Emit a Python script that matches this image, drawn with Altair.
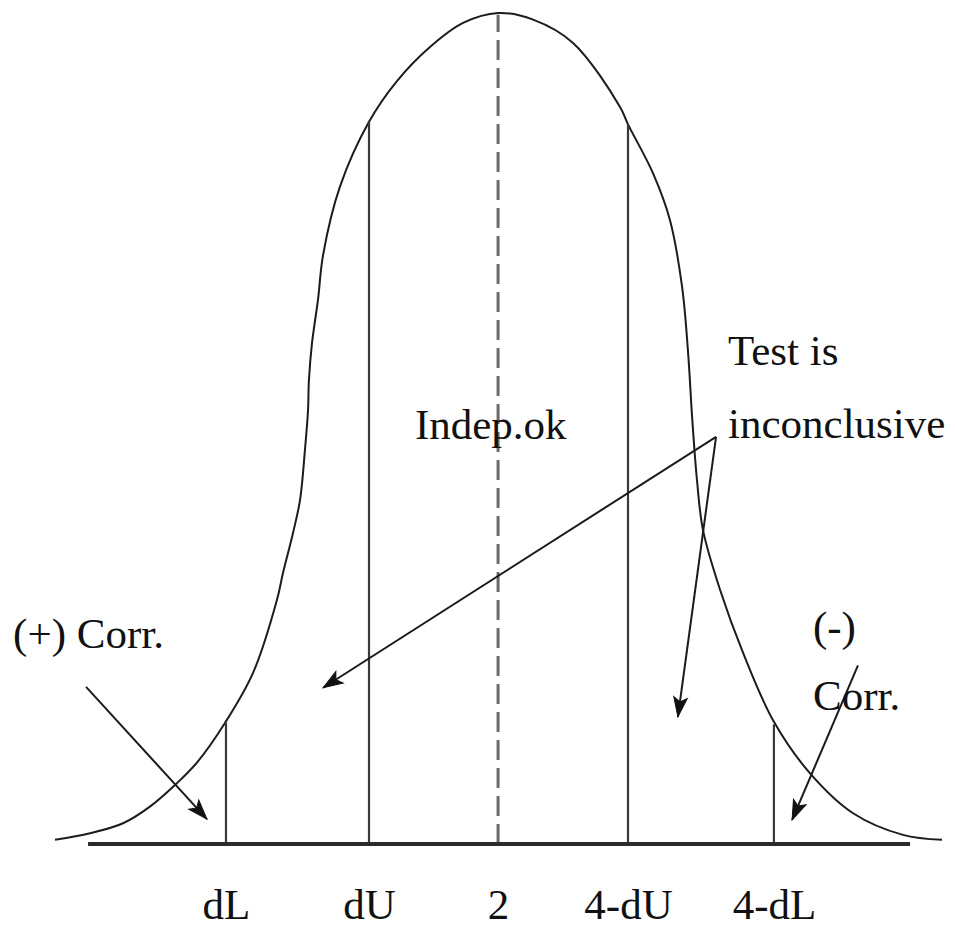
import math
import altair as alt
import pandas as pd

# ---- data (x = Durbin-Watson d, y = relative density) ----
curve_d = [0.000, 0.158, 0.307, 0.428, 0.541, 0.640, 0.767, 0.893, 1.001, 1.028,
           1.073, 1.105, 1.127, 1.141, 1.145, 1.159, 1.186, 1.209, 1.285, 1.416,
           1.542, 1.691, 1.840, 1.998, 2.156, 2.336, 2.548, 2.584, 2.697, 2.773,
           2.828, 2.855, 2.873, 2.895, 2.922, 2.999, 3.103, 3.242, 3.405, 3.599,
           3.824, 4.000]
curve_v = [0.005, 0.013, 0.025, 0.045, 0.071, 0.098, 0.146, 0.206, 0.294, 0.326,
           0.374, 0.414, 0.474, 0.522, 0.558, 0.603, 0.655, 0.709, 0.791, 0.869,
           0.918, 0.959, 0.988, 1.000, 0.992, 0.964, 0.887, 0.866, 0.807, 0.751,
           0.670, 0.591, 0.514, 0.438, 0.378, 0.306, 0.230, 0.147, 0.085, 0.037,
           0.011, 0.005]

cut_names = ["dL", "dU", "2", "4-dU", "4-dL"]
cut_d = [0.771, 1.416, 1.998, 2.584, 3.242]
cut_top = [0.146, 0.869, 0.998, 0.866, 0.144]

base_from, base_to = 0.149, 3.856

arrow_from_d = [0.140, 2.981, 2.981, 3.621]
arrow_from_v = [0.189, 0.490, 0.490, 0.215]
arrow_to_d = [0.685, 1.209, 2.809, 3.324]
arrow_to_v = [0.030, 0.188, 0.153, 0.029]

note_text = ["(+) Corr.", "Indep.ok", "Test is", "inconclusive", "(-)", "Corr."]
note_d = [-0.189, 1.623, 3.035, 3.035, 3.418, 3.418]
note_v = [0.236, 0.487, 0.577, 0.489, 0.244, 0.161]

# ---- layout ----
W, H = 939, 836
X_DOM = [-0.212, 4.0225]
Y_DOM = [0, 1.006]
px_d = W / (X_DOM[1] - X_DOM[0])
px_v = H / (Y_DOM[1] - Y_DOM[0])

FONT = "Liberation Serif"
FS = 43

xs = alt.Scale(domain=X_DOM, nice=False, zero=False)
ys = alt.Scale(domain=Y_DOM, nice=False, zero=False)
label_expr = ("datum.value < 1 ? 'dL' : datum.value < 1.8 ? 'dU' : "
              "datum.value < 2.2 ? '2' : datum.value < 3 ? '4-dU' : '4-dL'")
xaxis = alt.Axis(values=cut_d, labelExpr=label_expr, domain=False, ticks=False,
                 tickSize=0, grid=False, title=None, labelFont=FONT,
                 labelFontSize=FS, labelColor="#111111", labelPadding=74,
                 labelBaseline="alphabetic", labelFlush=False,
                 labelOverlap=False, labelBound=False)


def X(field):
    return alt.X(field, type="quantitative", scale=xs, axis=xaxis)


def Y(field):
    return alt.Y(field, type="quantitative", scale=ys, axis=None)


curve_df = pd.DataFrame({"d": curve_d, "v": curve_v})
cuts_df = pd.DataFrame({"name": cut_names, "d": cut_d, "top": cut_top, "bottom": 0.0})
base_df = pd.DataFrame({"d": [base_from], "d2": [base_to], "v": [0.0]})

angles = []
for a, b, c, e in zip(arrow_from_d, arrow_from_v, arrow_to_d, arrow_to_v):
    dx = (c - a) * px_d
    dy = -(e - b) * px_v
    angles.append(math.degrees(math.atan2(dx, -dy)) % 360)
arrows_df = pd.DataFrame({"d": arrow_from_d, "v": arrow_from_v,
                          "d2": arrow_to_d, "v2": arrow_to_v, "ang": angles})
notes_df = pd.DataFrame({"d": note_d, "v": note_v, "t": note_text})

curve = alt.Chart(curve_df).mark_line(
    interpolate="catmull-rom", color="#1c1c1c", strokeWidth=2
).encode(x=X("d"), y=Y("v"))

baseline = alt.Chart(base_df).mark_rule(color="#2b2b2b", strokeWidth=4).encode(
    x=X("d"), x2="d2", y=Y("v"))

solid_cuts = alt.Chart(cuts_df).transform_filter("datum.name != '2'").mark_rule(
    color="#3a3a3a", strokeWidth=2.2).encode(x=X("d"), y=Y("bottom"), y2="top")

dashed_cut = alt.Chart(cuts_df).transform_filter("datum.name == '2'").mark_rule(
    color="#6a6a6a", strokeWidth=3, strokeDash=[20, 8]).encode(
    x=X("d"), y=Y("bottom"), y2="top")

arrow_lines = alt.Chart(arrows_df).mark_rule(color="#1a1a1a", strokeWidth=2).encode(
    x=X("d"), y=Y("v"), x2="d2", y2="v2")

heads = alt.Chart(arrows_df).mark_point(
    shape="M0,0L0.7,2L0,1.55L-0.7,2Z", filled=True, size=380, opacity=1,
    color="#111111", stroke="#111111", strokeWidth=1
).encode(x=X("d2"), y=Y("v2"), angle=alt.Angle("ang:Q", scale=None))

notes = alt.Chart(notes_df).mark_text(
    align="left", baseline="alphabetic", font=FONT, fontSize=FS, color="#111111"
).encode(x=X("d"), y=Y("v"), text="t:N")

chart = alt.layer(curve, solid_cuts, dashed_cut, baseline, arrow_lines, heads, notes).properties(
    width=W, height=H,
    autosize=alt.AutoSizeParams(type="none"),
    padding={"left": 0, "top": 0, "right": 0, "bottom": 84},
).configure_view(stroke=None)

chart.save("out.html", embed_options={"renderer": "svg", "actions": False})
